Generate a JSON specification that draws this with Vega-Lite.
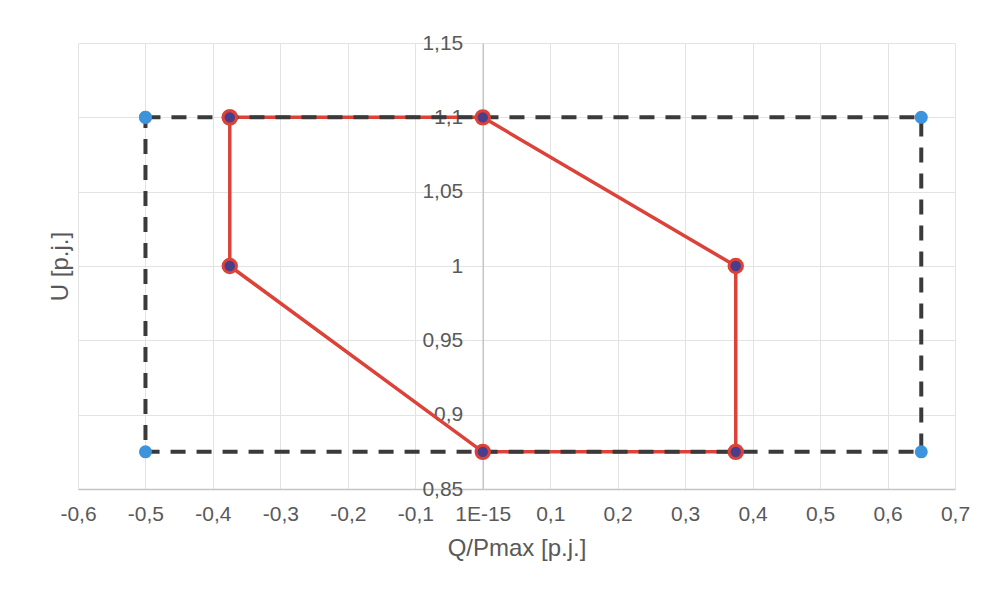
{
  "$schema": "https://vega.github.io/schema/vega-lite/v6.json",
  "autosize": {"type": "none"},
  "width": 877,
  "height": 446,
  "padding": {"left": 78, "top": 43, "right": 37, "bottom": 105},
  "background": "white",
  "config": {
    "view": {"stroke": null},
    "font": "Liberation Sans, Arial, sans-serif"
  },
  "datasets": {
    "poly": [
      {"q": -0.375, "u": 1.1, "i": 0},
      {"q": 0, "u": 1.1, "i": 1},
      {"q": 0.375, "u": 1.0, "i": 2},
      {"q": 0.375, "u": 0.875, "i": 3},
      {"q": 0, "u": 0.875, "i": 4},
      {"q": -0.375, "u": 1.0, "i": 5},
      {"q": -0.375, "u": 1.1, "i": 6}
    ],
    "rect": [
      {"q": -0.5, "u": 1.1, "i": 0},
      {"q": 0.65, "u": 1.1, "i": 1},
      {"q": 0.65, "u": 0.875, "i": 2},
      {"q": -0.5, "u": 0.875, "i": 3},
      {"q": -0.5, "u": 1.1, "i": 4}
    ]
  },
  "layer": [
    {
      "data": {"name": "poly"},
      "mark": {"type": "line", "color": "#dc4238", "strokeWidth": 3.5},
      "encoding": {
        "x": {
          "field": "q", "type": "quantitative",
          "scale": {"domain": [-0.6, 0.7], "nice": false, "zero": false},
          "axis": {
            "title": "Q/Pmax [p.j.]",
            "values": [-0.6, -0.5, -0.4, -0.3, -0.2, -0.1, 0, 0.1, 0.2, 0.3, 0.4, 0.5, 0.6, 0.7],
            "labelExpr": "abs(datum.value) < 1e-9 ? '1E-15' : replace(replace(format(datum.value, '.1f'), '.', ','), '\u2212', '-')",
            "labelFontSize": 21,
            "labelColor": "#595959",
            "labelPadding": 14,
            "ticks": false,
            "grid": true,
            "gridColor": "#e3e3e3",
            "gridWidth": 1,
            "domainColor": "#c4c4c4",
            "domainWidth": 1.5,
            "titleFontSize": 24,
            "titleFontWeight": "normal",
            "titleColor": "#595959",
            "titlePadding": 12,
            "labelFlush": false,
            "labelOverlap": false
          }
        },
        "y": {
          "field": "u", "type": "quantitative",
          "scale": {"domain": [0.85, 1.15], "nice": false, "zero": false},
          "axis": {
            "title": "U [p.j.]",
            "orient": "left",
            "offset": -404.77,
            "values": [0.85, 0.9, 0.95, 1.0, 1.05, 1.1, 1.15],
            "labelExpr": "replace(format(datum.value, '.2~f'), '.', ',')",
            "labelFontSize": 21,
            "labelColor": "#595959",
            "labelPadding": 20,
            "ticks": false,
            "grid": true,
            "gridColor": "#e3e3e3",
            "gridWidth": 1,
            "domainColor": "#c4c4c4",
            "domainWidth": 1.5,
            "titleFontSize": 24,
            "titleFontWeight": "normal",
            "titleColor": "#595959",
            "titleX": -421.8,
            "titleY": 223,
            "titleAngle": -90,
            "titleAlign": "center",
            "titleBaseline": "middle",
            "labelFlush": false,
            "labelOverlap": false
          }
        },
        "order": {"field": "i", "type": "quantitative"}
      }
    },
    {
      "data": {"name": "rect"},
      "mark": {"type": "line", "color": "#3a3a3a", "strokeWidth": 4, "strokeDash": [15, 11]},
      "encoding": {
        "x": {"field": "q", "type": "quantitative"},
        "y": {"field": "u", "type": "quantitative"},
        "order": {"field": "i", "type": "quantitative"}
      }
    },
    {
      "data": {"name": "poly"},
      "mark": {"type": "point", "filled": true, "shape": "circle", "fill": "#4a3d8c", "stroke": "#dc4238", "strokeWidth": 3, "size": 180, "opacity": 1},
      "encoding": {
        "x": {"field": "q", "type": "quantitative"},
        "y": {"field": "u", "type": "quantitative"}
      }
    },
    {
      "data": {"name": "rect"},
      "mark": {"type": "point", "filled": true, "shape": "circle", "color": "#3d94dc", "size": 170, "opacity": 1},
      "encoding": {
        "x": {"field": "q", "type": "quantitative"},
        "y": {"field": "u", "type": "quantitative"}
      }
    }
  ]
}
